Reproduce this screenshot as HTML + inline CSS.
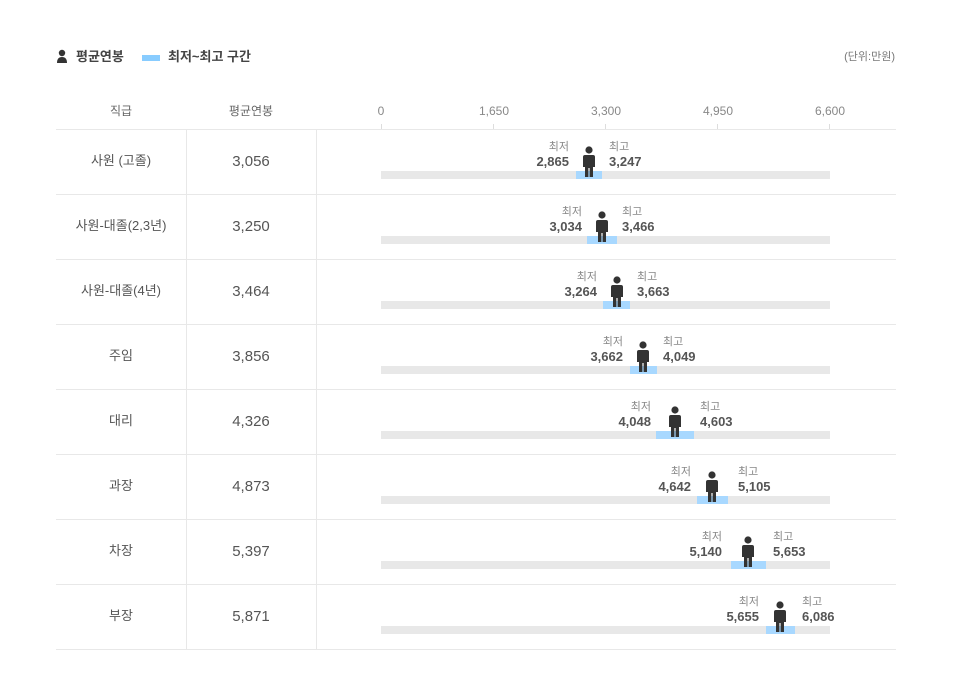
<!DOCTYPE html>
<html><head><meta charset="utf-8"><style>
body{margin:0;background:#fff;}
svg{display:block;font-family:"Liberation Sans","Noto Sans CJK KR",sans-serif;}
.h{font-size:12px;fill:#666;text-anchor:middle}
.t{font-size:12px;fill:#888;text-anchor:middle}
.c{font-size:13px;fill:#555;text-anchor:middle}
.n{font-size:15px;fill:#555;text-anchor:middle}
.s{font-size:11px;fill:#888}
.v{font-size:13px;fill:#555;font-weight:bold}
.e{text-anchor:end}
</style></head><body>
<svg width="953" height="699" viewBox="0 0 953 699">
<defs>
<g id="p"><circle cx="0" cy="21" r="3.6" fill="#333"/><path d="M-6 28 Q-6 26 -4 26 L4 26 Q6 26 6 28 L6 38 L4 38 L4 48 L0.6 48 L0.6 39 L-0.6 39 L-0.6 48 L-4 48 L-4 38 L-6 38 Z" fill="#333"/></g>
</defs>
<!-- legend -->
<circle cx="62" cy="53" r="3.2" fill="#333"/><path d="M57 63 Q57 57 62 57 Q67 57 67 63 Z" fill="#333"/>
<text x="76" y="61" font-size="13" font-weight="bold" fill="#444">평균연봉</text>
<rect x="142" y="55" width="18" height="6" fill="#88ccff"/>
<text x="168" y="61" font-size="13" font-weight="bold" fill="#444">최저~최고 구간</text>
<text x="895" y="60" font-size="11" fill="#777" text-anchor="end">(단위:만원)</text>
<!-- header -->
<text class="h" x="121" y="115">직급</text>
<text class="h" x="251" y="115">평균연봉</text>
<text class="t" x="381" y="115">0</text><text class="t" x="494" y="115">1,650</text><text class="t" x="606" y="115">3,300</text><text class="t" x="718" y="115">4,950</text><text class="t" x="830" y="115">6,600</text>
<g stroke="#ddd"><line x1="381.5" y1="124" x2="381.5" y2="129"/><line x1="493.5" y1="124" x2="493.5" y2="129"/><line x1="605.5" y1="124" x2="605.5" y2="129"/><line x1="717.5" y1="124" x2="717.5" y2="129"/><line x1="829.5" y1="124" x2="829.5" y2="129"/></g>
<g stroke="#e8e8e8"><line x1="56" y1="129.5" x2="896" y2="129.5"/><line x1="56" y1="194.5" x2="896" y2="194.5"/><line x1="56" y1="259.5" x2="896" y2="259.5"/><line x1="56" y1="324.5" x2="896" y2="324.5"/><line x1="56" y1="389.5" x2="896" y2="389.5"/><line x1="56" y1="454.5" x2="896" y2="454.5"/><line x1="56" y1="519.5" x2="896" y2="519.5"/><line x1="56" y1="584.5" x2="896" y2="584.5"/><line x1="56" y1="649.5" x2="896" y2="649.5"/>
<line x1="186.5" y1="130" x2="186.5" y2="649"/><line x1="316.5" y1="130" x2="316.5" y2="649"/></g>
<!-- rows -->
<g fill="#e8e8e8"><rect x="381" y="171" width="449" height="8"/><rect x="381" y="236" width="449" height="8"/><rect x="381" y="301" width="449" height="8"/><rect x="381" y="366" width="449" height="8"/><rect x="381" y="431" width="449" height="8"/><rect x="381" y="496" width="449" height="8"/><rect x="381" y="561" width="449" height="8"/><rect x="381" y="626" width="449" height="8"/></g>
<g fill="#a8d8ff"><rect x="576" y="171" width="26" height="8"/><rect x="587" y="236" width="30" height="8"/><rect x="603" y="301" width="27" height="8"/><rect x="630" y="366" width="27" height="8"/><rect x="656" y="431" width="38" height="8"/><rect x="697" y="496" width="31" height="8"/><rect x="731" y="561" width="35" height="8"/><rect x="766" y="626" width="29" height="8"/></g>
<use href="#p" x="589" y="129"/><use href="#p" x="602" y="194"/><use href="#p" x="617" y="259"/><use href="#p" x="643" y="324"/><use href="#p" x="675" y="389"/><use href="#p" x="712" y="454"/><use href="#p" x="748" y="519"/><use href="#p" x="780" y="584"/>

<text class="c" x="121" y="165">사원 (고졸)</text><text class="n" x="251" y="166">3,056</text>
<text class="s e" x="569" y="150">최저</text><text class="v e" x="569" y="166">2,865</text><text class="s" x="609" y="150">최고</text><text class="v" x="609" y="166">3,247</text>

<text class="c" x="121" y="230">사원-대졸(2,3년)</text><text class="n" x="251" y="231">3,250</text>
<text class="s e" x="582" y="215">최저</text><text class="v e" x="582" y="231">3,034</text><text class="s" x="622" y="215">최고</text><text class="v" x="622" y="231">3,466</text>

<text class="c" x="121" y="295">사원-대졸(4년)</text><text class="n" x="251" y="296">3,464</text>
<text class="s e" x="597" y="280">최저</text><text class="v e" x="597" y="296">3,264</text><text class="s" x="637" y="280">최고</text><text class="v" x="637" y="296">3,663</text>

<text class="c" x="121" y="360">주임</text><text class="n" x="251" y="361">3,856</text>
<text class="s e" x="623" y="345">최저</text><text class="v e" x="623" y="361">3,662</text><text class="s" x="663" y="345">최고</text><text class="v" x="663" y="361">4,049</text>

<text class="c" x="121" y="425">대리</text><text class="n" x="251" y="426">4,326</text>
<text class="s e" x="651" y="410">최저</text><text class="v e" x="651" y="426">4,048</text><text class="s" x="700" y="410">최고</text><text class="v" x="700" y="426">4,603</text>

<text class="c" x="121" y="490">과장</text><text class="n" x="251" y="491">4,873</text>
<text class="s e" x="691" y="475">최저</text><text class="v e" x="691" y="491">4,642</text><text class="s" x="738" y="475">최고</text><text class="v" x="738" y="491">5,105</text>

<text class="c" x="121" y="555">차장</text><text class="n" x="251" y="556">5,397</text>
<text class="s e" x="722" y="540">최저</text><text class="v e" x="722" y="556">5,140</text><text class="s" x="773" y="540">최고</text><text class="v" x="773" y="556">5,653</text>

<text class="c" x="121" y="620">부장</text><text class="n" x="251" y="621">5,871</text>
<text class="s e" x="759" y="605">최저</text><text class="v e" x="759" y="621">5,655</text><text class="s" x="802" y="605">최고</text><text class="v" x="802" y="621">6,086</text>
</svg>
</body></html>
